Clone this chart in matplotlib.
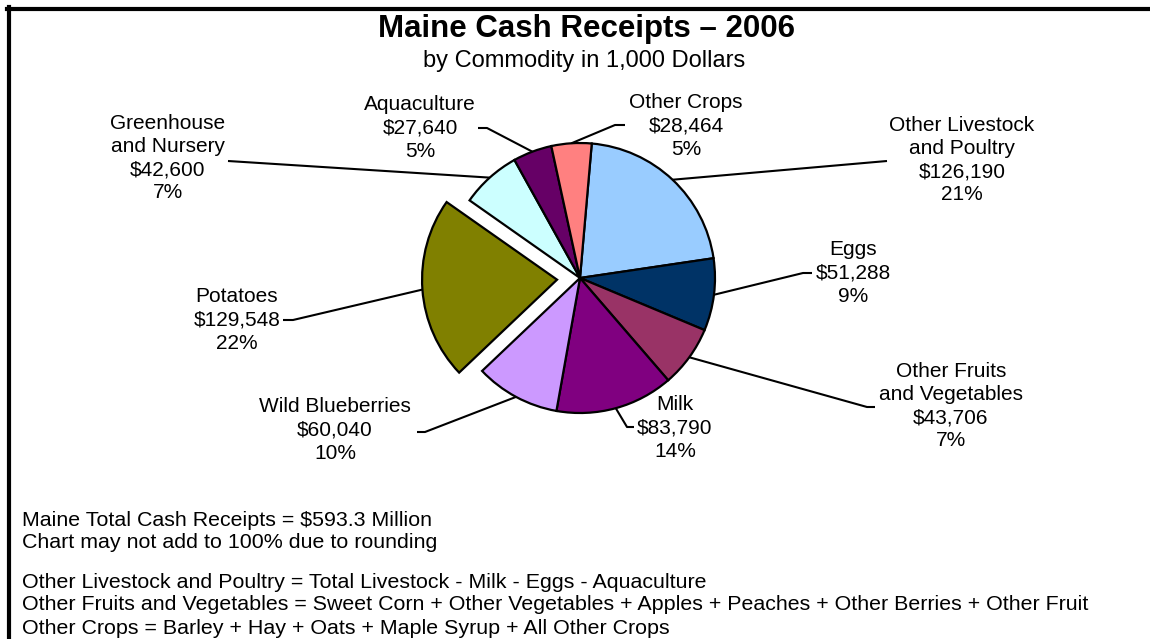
import numpy as np
import matplotlib.pyplot as plt

plt.rcParams['font.family'] = ['Liberation Sans', 'DejaVu Sans']

W, H = 1150, 639   # figure size in pixels

# data (1,000 dollars), clockwise from the top
commodities = ['Other Livestock\nand Poultry', 'Eggs', 'Other Fruits\nand Vegetables', 'Milk',
               'Wild Blueberries', 'Potatoes', 'Greenhouse\nand Nursery', 'Aquaculture', 'Other Crops']
receipts = [126190, 51288, 43706, 83790, 60040, 129548, 42600, 27640, 28464]
colors = ['#99CCFF', '#003366', '#993366', '#800080', '#CC99FF',
          '#808000', '#CCFFFF', '#660066', '#FF8080']
explode = [0, 0, 0, 0, 0, 23, 0, 0, 0]   # pixels, potatoes pulled out

# label centres, and the leader line: text end -> bend (pixels, from top left)
label_xy = [(962, 160), (853, 273), (951, 406), (675, 428), (335, 430),
            (237, 320), (168, 158), (420, 128), (686, 126)]
leader_end = [(887, 161), (812, 273), (875, 407), (634, 427), (417, 432),
              (283, 320), (228, 161), (478, 128), (625, 125)]
leader_bend = [(887, 161), (803, 273), (867, 407), (627, 427), (425, 432),
               (293, 320), (228, 161), (487, 128), (615, 125)]

notes = ['Maine Total Cash Receipts = $593.3 Million',
         'Chart may not add to 100% due to rounding',
         'Other Livestock and Poultry = Total Livestock - Milk - Eggs - Aquaculture',
         'Other Fruits and Vegetables = Sweet Corn + Other Vegetables + Apples + Peaches + Other Berries + Other Fruit',
         'Other Crops = Barley + Hay + Oats + Maple Syrup + All Other Crops']
notes_y = [521, 542, 583, 605, 628]


def px(x, y):
    return x, H - y


fig = plt.figure(figsize=(W / 100, H / 100), dpi=100)
ax = fig.add_axes([0, 0, 1, 1])

wedges, _ = ax.pie(receipts, colors=colors, explode=explode, startangle=85,
                   counterclock=False, radius=135, center=px(580, 278),
                   wedgeprops=dict(edgecolor='black', linewidth=1.6))
ax.set_xlim(0, W)
ax.set_ylim(0, H)
ax.set_aspect('equal')
ax.axis('off')

total = sum(receipts)
for w, name, val, lxy, le, lb in zip(wedges, commodities, receipts,
                                     label_xy, leader_end, leader_bend):
    mid = np.deg2rad((w.theta1 + w.theta2) / 2)
    cx, cy = w.center
    edge = (cx + w.r * np.cos(mid), cy + w.r * np.sin(mid))
    xs = [le[0], lb[0]]
    ys = [H - le[1], H - lb[1]]
    ax.plot(xs + [edge[0]], ys + [edge[1]], color='black', lw=1.5,
            solid_capstyle='butt')
    txt = '%s\n$%s\n%d%%' % (name, format(val, ','), round(100 * val / total))
    ax.text(*px(*lxy), txt, ha='center', va='center', fontsize=15,
            linespacing=1.27)

ax.text(*px(586, 29), 'Maine Cash Receipts \u2013 2006', ha='center', va='center',
        fontsize=22.5, fontweight='bold')
ax.text(*px(584, 61), 'by Commodity in 1,000 Dollars', ha='center', va='center',
        fontsize=17)

for s, y in zip(notes, notes_y):
    ax.text(*px(22, y), s, ha='left', va='center', fontsize=15.4)

# frame (only top and left edges are visible)
ax.plot([7, W], [H - 9, H - 9], color='black', lw=3, clip_on=False)
ax.plot([9, 9], [H - 7, 0], color='black', lw=3, clip_on=False)

fig.savefig('out.png', dpi=100)
